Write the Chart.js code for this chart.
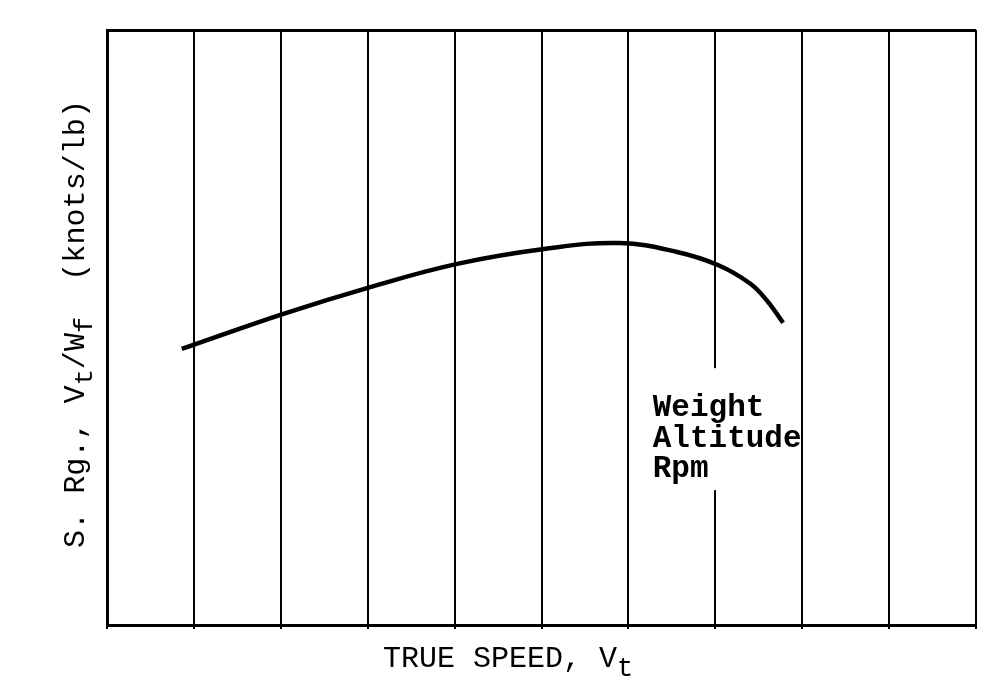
<!DOCTYPE html>
<html>
<head>
<meta charset="utf-8">
<script src="https://cdn.jsdelivr.net/npm/chart.js@4.4.1/dist/chart.umd.min.js"></script>
<style>
  html, body { margin: 0; padding: 0; background: #fff; }
  #wrap { width: 999px; height: 685px; position: relative; }
</style>
</head>
<body>
<div id="wrap"><canvas id="c" width="999" height="685"></canvas></div>
<script>
// ---- data (axes carry no numeric ticks) ----
const speedX = [0.86, 2.03, 3.03, 4.03, 5.03, 5.90, 6.56, 7.03, 7.40, 7.59, 7.78];
const rangeY = [46.4, 52.3, 56.8, 60.7, 63.2, 64.2, 62.7, 60.5, 57.4, 54.6, 50.8];
const xTickValues = [0, 1, 2, 3, 4, 5, 6, 7, 8, 9, 10];
const yTickValues = [0, 100];
const xTitleParts = [["TRUE SPEED, V", false], ["t", true]];
const yTitleParts = [["S. Rg., V", false], ["t", true], ["/W", false], ["f", true], ["  (knots/lb)", false]];
const noteLines = ["Weight", "Altitude", "Rpm"];
const notePos = { x: 6.28, y: 35.1 };

const FONT = '"Liberation Mono", "DejaVu Sans Mono", monospace';

function measureParts(ctx, parts, size, subSize) {
  let total = 0;
  parts.forEach(([t, sub]) => {
    ctx.font = (sub ? subSize : size) + 'px ' + FONT;
    total += ctx.measureText(t).width;
  });
  return total;
}
function renderParts(ctx, parts, x, y, size, subSize, subDrop) {
  let cx = x;
  parts.forEach(([t, sub]) => {
    ctx.font = (sub ? subSize : size) + 'px ' + FONT;
    ctx.fillText(t, cx, sub ? y + subDrop : y);
    cx += ctx.measureText(t).width;
  });
}

const labelsPlugin = {
  id: 'labels',
  afterDatasetsDraw(chart) {
    const ctx = chart.ctx;
    const xs = chart.scales.x, ys = chart.scales.y;
    ctx.save();
    ctx.fillStyle = '#000';
    ctx.textBaseline = 'alphabetic';
    ctx.textAlign = 'left';

    // annotation with white background (interrupts the gridline beneath)
    const nx = xs.getPixelForValue(notePos.x);
    const ny = ys.getPixelForValue(notePos.y);
    ctx.fillStyle = '#fff';
    ctx.fillRect(nx - 4, ny - 48, 148, 122);
    ctx.fillStyle = '#000';
    ctx.font = 'bold 31px ' + FONT;
    noteLines.forEach((t, i) => ctx.fillText(t, nx, ny + i * 30.5));

    // x title
    renderParts(ctx, xTitleParts, 383, 667, 30, 27, 9);

    // y title (rotated)
    const w = measureParts(ctx, yTitleParts, 29, 26);
    ctx.translate(84, 548);
    ctx.rotate(-Math.PI / 2);
    ctx.scale(448 / w, 1);
    renderParts(ctx, yTitleParts, 0, 0, 29, 26, 8);
    ctx.restore();
  }
};

new Chart(document.getElementById('c'), {
  type: 'line',
  data: {
    datasets: [{
      data: speedX.map((x, i) => ({ x, y: rangeY[i] })),
      borderColor: '#000',
      borderWidth: 4.5,
      pointRadius: 0,
      tension: 0.4,
      fill: false
    }]
  },
  options: {
    responsive: false,
    animation: false,
    devicePixelRatio: 1,
    layout: { padding: { left: 107, right: 23, top: 30, bottom: 56 } },
    plugins: { legend: { display: false }, tooltip: { enabled: false } },
    scales: {
      x: {
        type: 'linear', min: 0, max: 10,
        afterBuildTicks: s => { s.ticks = xTickValues.map(v => ({ value: v })); },
        ticks: { display: false },
        grid: { color: '#000', lineWidth: 2, drawTicks: true, tickLength: 4 },
        border: { display: true, color: '#000', width: 3 },
        title: { display: false }
      },
      y: {
        type: 'linear', min: 0, max: 100,
        afterBuildTicks: s => { s.ticks = yTickValues.map(v => ({ value: v })); },
        ticks: { display: false },
        grid: { color: '#000', lineWidth: 3, drawTicks: false },
        border: { display: true, color: '#000', width: 3 },
        title: { display: false }
      }
    }
  },
  plugins: [labelsPlugin]
});
</script>
</body>
</html>
